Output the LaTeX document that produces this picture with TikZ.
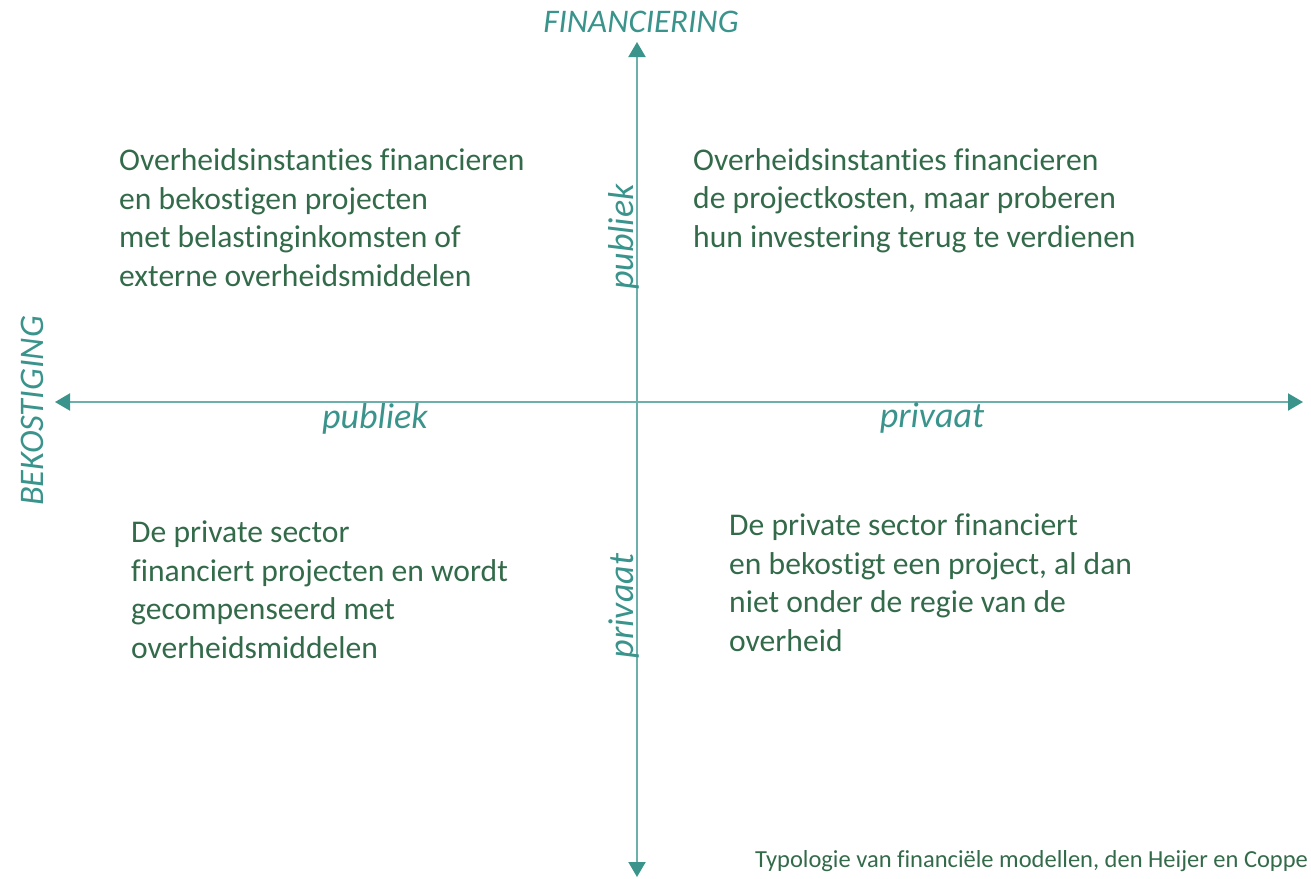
\documentclass[tikz,border=0pt]{standalone}
\usepackage{fontspec}
\setmainfont{Carlito}[Ligatures=CommonOff]
\usetikzlibrary{arrows.meta}
\definecolor{axisline}{HTML}{6CB0AB}
\definecolor{axistip}{HTML}{3A948C}
\definecolor{axistext}{HTML}{3A948C}
\definecolor{quadtext}{HTML}{336B4A}
\begin{document}
\begin{tikzpicture}[x=1pt,y=-1pt,>={Triangle[length=15pt,width=17pt,color=axistip]},
    axis/.style={axisline,line width=2pt},
    axislabel/.style={axistext,font=\fontsize{33}{38}\selectfont\itshape,inner sep=0pt,anchor=base},
    sidelabel/.style={axistext,font=\fontsize{36}{40}\selectfont\itshape,inner sep=0pt,anchor=base},
    quadrant/.style={quadtext,font=\fontsize{31.6}{38.5}\selectfont,align=left,inner sep=0pt,anchor=base west}]
      \useasboundingbox (0,0) rectangle (1311,878);
      \def\ox{637}
      \def\oy{402}
      % assen
      \coordinate (north) at (\ox,42);
      \coordinate (south) at (\ox,877);
      \coordinate (west) at (55,\oy);
      \coordinate (east) at (1303,\oy);
      \draw[axis,<->] (west) -- (east);
      \draw[axis,<->] (south) -- (north);
      \node[axislabel] (fin) at (641,32) {FINANCIERING};
      \node[axislabel,rotate=90,font=\fontsize{34.5}{38}\selectfont\itshape] (bek) at (43,411) {BEKOSTIGING};
      \node[sidelabel] (hpub) at (375,428) {publiek};
      \node[sidelabel] (hpriv) at (932,427) {privaat};
      \node[sidelabel,rotate=90] (vpub) at (633,237) {publiek};
      \node[sidelabel,rotate=90] (vpriv) at (633,606) {privaat};
      % kwadranten (anker = basislijn van de laatste regel)
      \node[quadrant] (pubpub) at (119,286) {Overheidsinstanties financieren\\en bekostigen projecten\\met belastinginkomsten of\\externe overheidsmiddelen};
      \node[quadrant] (pubpriv) at (693,247) {Overheidsinstanties financieren\\de projectkosten, maar proberen\\hun investering terug te verdienen};
      \node[quadrant] (privpub) at (131,658) {De private sector\\financiert projecten en wordt\\gecompenseerd met\\overheidsmiddelen};
      \node[quadrant] (privpriv) at (729,651) {De private sector financiert\\en bekostigt een project, al dan\\niet onder de regie van de\\overheid};
      \node[quadtext,font=\fontsize{24.5}{28}\selectfont,inner sep=0pt,anchor=base west] (bron) at (755,867) {Typologie van financiële modellen, den Heijer en Coppe};
\end{tikzpicture}
\end{document}
